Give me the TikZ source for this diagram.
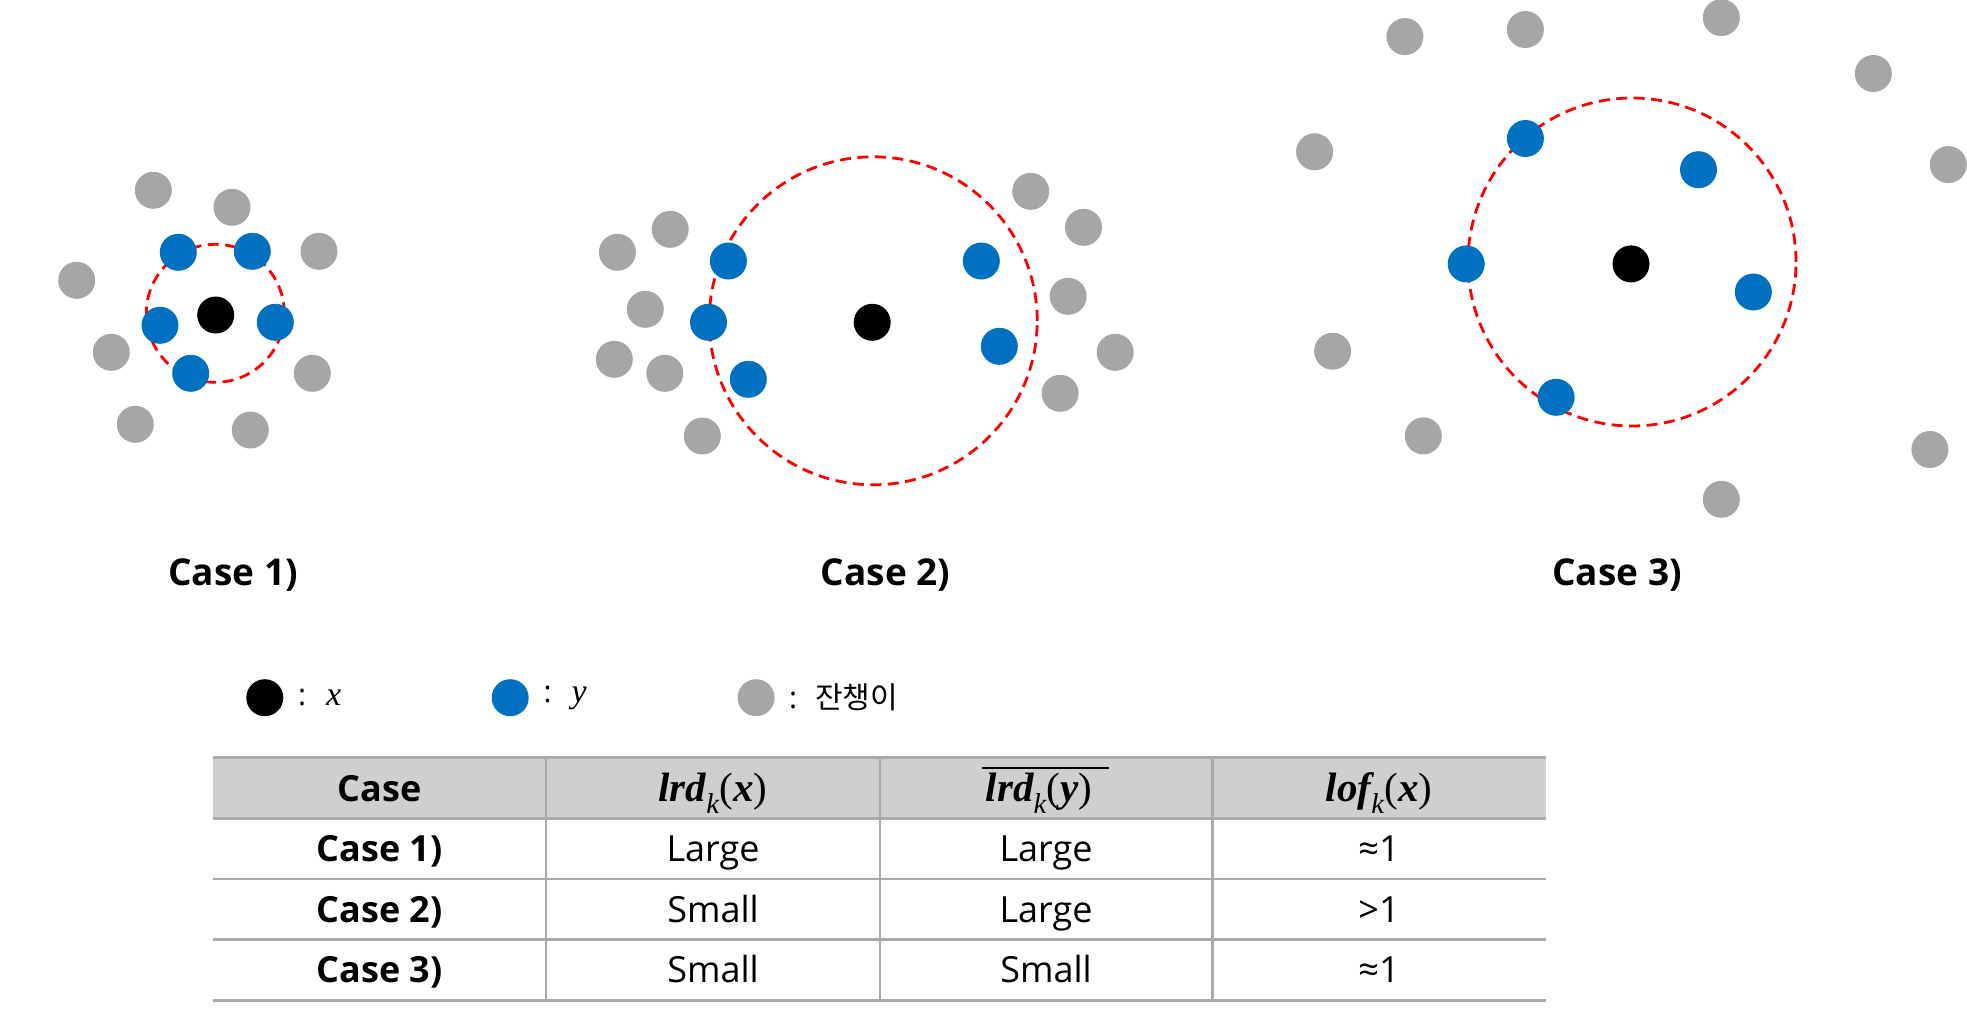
\documentclass[tikz,border=0pt]{standalone}
\usepackage{fontspec}
\setmainfont{Open Sans}
\newfontfamily\krfont{Noto Sans CJK KR}
\newfontfamily\mfont{Liberation Serif}
\newcommand{\mvar}[1]{{\mfont\bfseries\itshape #1}}
\newcommand{\mfun}[2]{\mvar{#1}\textsubscript{\mfont\itshape k}{\mfont(}\mvar{#2}{\mfont)}}
\definecolor{dotblue}{RGB}{0,112,192}
\definecolor{dotgray}{RGB}{166,166,166}
\definecolor{hdrgray}{RGB}{208,206,206}
\definecolor{linegray}{RGB}{170,170,170}
\tikzset{
  pt/.style={circle, minimum size=37pt, inner sep=0pt, draw=none},
  xpt/.style={pt, fill=black},
  ypt/.style={pt, fill=dotblue},
  gpt/.style={pt, fill=dotgray},
  ring/.style={circle, draw=red, line width=2.8pt, dash pattern=on 11pt off 6.5pt, inner sep=0pt},
  caselbl/.style={font=\fontsize{37}{44}\selectfont\bfseries, anchor=base, inner sep=0pt},
  cell/.style={font=\fontsize{36}{42}\selectfont, inner sep=0pt, anchor=base},
  bcell/.style={cell, font=\fontsize{36}{42}\selectfont\bfseries},
  mcell/.style={cell, font=\fontsize{41}{46}\selectfont},
  legtxt/.style={font=\fontsize{30}{36}\selectfont, anchor=west, inner sep=0pt},
  tline/.style={draw=linegray, line width=2.5pt},
}
\begin{document}
\begin{tikzpicture}[x=1pt,y=-1pt]
\useasboundingbox (0,0) rectangle (1967,1015);
% ---------- Case 1 ----------
\node[ring, minimum size=138pt] (r1) at (215.3,313.3) {};
\node[gpt] (c1g1) at (153.3,190.3) {};
\node[gpt] (c1g2) at (232,207.3) {};
\node[gpt] (c1g3) at (319,251.3) {};
\node[gpt] (c1g4) at (76.7,280.3) {};
\node[gpt] (c1g5) at (111.3,352.3) {};
\node[gpt] (c1g6) at (312.3,373.3) {};
\node[gpt] (c1g7) at (135.3,424.3) {};
\node[gpt] (c1g8) at (250.3,430) {};
\node[ypt] (c1y1) at (178.3,252.3) {};
\node[ypt] (c1y2) at (252.3,251.3) {};
\node[ypt] (c1y3) at (160,325.3) {};
\node[ypt] (c1y4) at (275.3,322.3) {};
\node[ypt] (c1y5) at (190.7,373.3) {};
\node[xpt] (c1x) at (215.7,315) {};
\node[caselbl] (lbl1) at (233,585) {Case 1)};
% ---------- Case 2 ----------
\node[ring, minimum size=328pt] (r2) at (873.2,320.8) {};
\node[gpt] (c2g1) at (670.2,229.3) {};
\node[gpt] (c2g2) at (617.4,252.3) {};
\node[gpt] (c2g3) at (645.3,309.3) {};
\node[gpt] (c2g4) at (614.3,359.3) {};
\node[gpt] (c2g5) at (664.8,373.3) {};
\node[gpt] (c2g6) at (702.3,436) {};
\node[gpt] (c2g7) at (1030.7,191.3) {};
\node[gpt] (c2g8) at (1083.5,227.3) {};
\node[gpt] (c2g9) at (1068.2,296.3) {};
\node[gpt] (c2g10) at (1115.2,352.3) {};
\node[gpt] (c2g11) at (1060.1,393.3) {};
\node[ypt] (c2y1) at (728.4,261) {};
\node[ypt] (c2y2) at (708.5,322.3) {};
\node[ypt] (c2y3) at (748.3,379.3) {};
\node[ypt] (c2y4) at (981.3,261) {};
\node[ypt] (c2y5) at (999.3,346.3) {};
\node[xpt] (c2x) at (872.2,322.3) {};
\node[caselbl] (lbl2) at (885.7,585) {Case 2)};
% ---------- Case 3 ----------
\node[ring, minimum size=328pt] (r3) at (1632,262) {};
\node[gpt] (c3g1) at (1404.9,36.6) {};
\node[gpt] (c3g2) at (1525.4,29.5) {};
\node[gpt] (c3g3) at (1721.3,17.6) {};
\node[gpt] (c3g4) at (1873.3,73.5) {};
\node[gpt] (c3g5) at (1314.6,151.8) {};
\node[gpt] (c3g6) at (1948.3,164.6) {};
\node[gpt] (c3g7) at (1332.6,351.2) {};
\node[gpt] (c3g8) at (1423.3,435.9) {};
\node[gpt] (c3g9) at (1929.9,449.5) {};
\node[gpt] (c3g10) at (1721.3,499.3) {};
\node[ypt] (c3y1) at (1525.4,138.5) {};
\node[ypt] (c3y2) at (1698.5,169.7) {};
\node[ypt] (c3y3) at (1466.2,263.9) {};
\node[ypt] (c3y4) at (1753.3,292) {};
\node[ypt] (c3y5) at (1556.1,397.3) {};
\node[xpt] (c3x) at (1631,263.9) {};
\node[caselbl] (lbl3) at (1617,585) {Case 3)};
% ---------- Legend ----------
\node[xpt] (lx) at (264.8,697.7) {};
\node[legtxt] (lxt) at (298,697.7) {:\hspace{20pt}{\fontsize{34}{40}\selectfont\mfont\itshape x}};
\node[ypt] (ly) at (510.2,697.7) {};
\node[legtxt] (lyt) at (543.5,697.7) {:\hspace{20pt}{\fontsize{34}{40}\selectfont\mfont\itshape y}};
\node[gpt] (lg) at (756.1,697.7) {};
\node[legtxt] (lgt) at (789,697.7) {:\hspace{18pt}{\krfont 잔챙이}};
% ---------- Table ----------
\fill[hdrgray] (213,757) rectangle (1546.4,818);
\draw[tline, line width=3pt] (213,757) -- (1546.4,757);
\draw[tline, line width=3pt] (213,818) -- (1546.4,818);
\draw[tline] (213,879) -- (1546.4,879);
\draw[tline] (213,939.5) -- (1546.4,939.5);
\draw[tline, line width=3pt] (213,1000.5) -- (1546.4,1000.5);
\draw[tline] (546,757) -- (546,1000.5);
\draw[tline] (880,757) -- (880,1000.5);
\draw[tline] (1212.4,757) -- (1212.4,1000.5);
\node[bcell] (h1) at (379.5,801.7) {Case};
\node[mcell] (h2) at (713,801.7) {\mfun{lrd}{x}};
\node[mcell] (h3) at (1039,801.7) {\mfun{lrd}{y}};
\draw[line width=2pt] ([xshift=-4pt]h3.west |- 0,768.3) coordinate (ob1) -- ([xshift=16pt]h3.east |- 0,768.3) coordinate (ob2);
\node[mcell] (h4) at (1379,801.7) {\mfun{lof}{x}};
\node[bcell] (a1) at (379.5,861.7) {Case 1)};
\node[cell] (a2) at (713,861.7) {Large};
\node[cell] (a3) at (1046,861.7) {Large};
\node[cell] (a4) at (1379,861.7) {≈1};
\node[bcell] (b1) at (379.5,922.2) {Case 2)};
\node[cell] (b2) at (713,922.2) {Small};
\node[cell] (b3) at (1046,922.2) {Large};
\node[cell] (b4) at (1379,922.2) {>1};
\node[bcell] (d1) at (379.5,982.7) {Case 3)};
\node[cell] (d2) at (713,982.7) {Small};
\node[cell] (d3) at (1046,982.7) {Small};
\node[cell] (d4) at (1379,982.7) {≈1};
\end{tikzpicture}
\end{document}
